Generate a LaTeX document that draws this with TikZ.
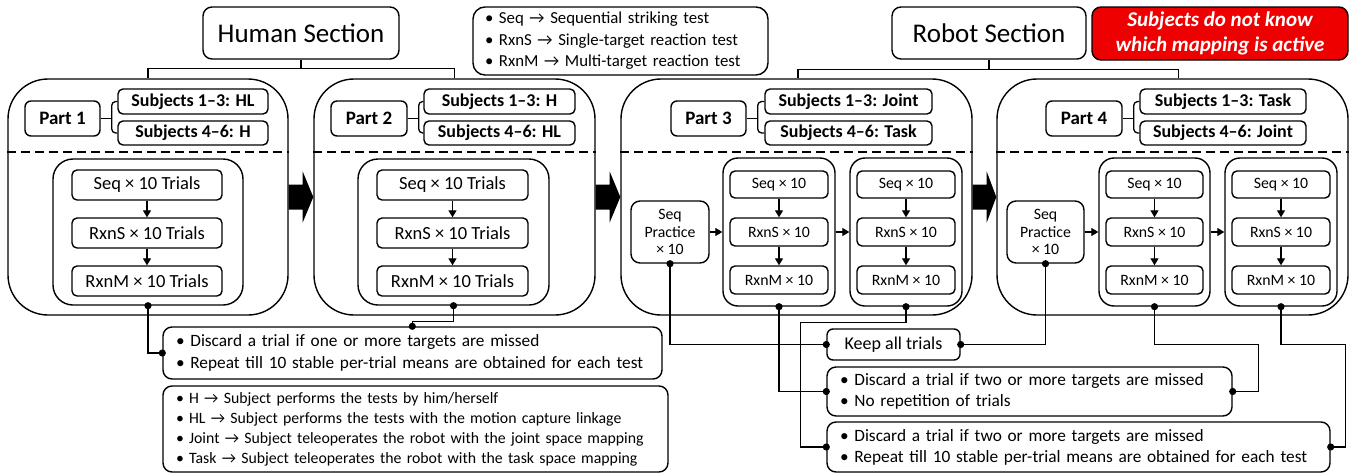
\documentclass[tikz,border=0pt]{standalone}
\usepackage{fontspec}
\setmainfont{Carlito}
\usetikzlibrary{arrows.meta,calc}

\newcommand\fsz[2]{\fontsize{#1}{#2}\selectfont}
% box by corners: name, x1, y1, x2, y2, style, text
\newcommand\bx[7]{\node[#6, minimum width={(#4)-(#2)}, minimum height={(#5)-(#3)}]
  (#1) at ({((#2)+(#4))/2},{((#3)+(#5))/2}) {#7};}
% dot at a connector end
\newcommand\dt[1]{\fill (#1) circle (3.6pt);}
% block arrow between two part boxes
\newcommand\blk[2]{\fill ($(#1.east)+(0,-12.5)$) -- ++(14,0) -- ++(0,-13) -- (#2.west)
  -- ($(#1.east)+(14,25.5)$) -- ++(0,-13) -- ($(#1.east)+(0,12.5)$) -- cycle;}
% part header: label box and first subject box
\newcommand\parthead[7]{% prefix, label x1, label x2, subj x1, subj x2, label, subj1
  \bx{#1l}{#2}{101}{#3}{136}{plabel}{#6}
  \bx{#1a}{#4}{89}{#5}{114}{subj}{#7}}
% second subject box and the brace joining them
\newcommand\partsubj[4]{% prefix, subj x1, subj x2, text
  \bx{#1b}{#2}{121}{#3}{145}{subj}{#4}
  \draw[link, rounded corners=4pt] (#1a.west) -| ($(#1l.east)+(11,0)$) |- (#1b.west);
  \draw[link] (#1l.east) -- ++(11,0);}
% human test column
\newcommand\hcol[3]{% name, x1, x2
  \bx{#1}{#2}{159}{#3}{305}{hinbox}{}
  \bx{#1s}{(#2)+19}{170}{(#3)-21}{200}{hstep}{Seq × 10 Trials}
  \bx{#1r}{(#2)+19}{218}{(#3)-21}{248}{hstep}{RxnS × 10 Trials}
  \bx{#1m}{(#2)+19}{266}{(#3)-21}{296}{hstep}{RxnM × 10 Trials}
  \draw[flow] (#1s) -- (#1r);
  \draw[flow] (#1r) -- (#1m);}
% robot test column
\newcommand\rcol[3]{% name, x1, x2
  \bx{#1}{#2}{158}{#3}{306}{rinbox}{}
  \bx{#1s}{(#2)+7}{171}{(#3)-7}{198}{rstep}{Seq × 10}
  \bx{#1r}{(#2)+7}{218}{(#3)-7}{246}{rstep}{RxnS × 10}
  \bx{#1m}{(#2)+7}{266}{(#3)-7}{294}{rstep}{RxnM × 10}
  \draw[flow] (#1s) -- (#1r);
  \draw[flow] (#1r) -- (#1m);}

\begin{document}
\begin{tikzpicture}[x=1pt,y=-1pt,
  box/.style={draw, line width=1.4pt, fill=white, inner sep=0pt, rounded corners=6pt, align=center},
  partbox/.style={box, rounded corners=40pt},
  hinbox/.style={box, rounded corners=20pt},
  rinbox/.style={box, rounded corners=15pt},
  hstep/.style={box, rounded corners=5pt, font=\fsz{18.5}{22}},
  rstep/.style={box, rounded corners=5pt, font=\fsz{15.8}{17.5}},
  plabel/.style={box, rounded corners=6pt, font=\fsz{19}{22}\bfseries},
  subj/.style={box, rounded corners=5pt, font=\fsz{18}{22}\bfseries},
  section/.style={box, rounded corners=9pt, font=\fsz{27}{30}},
  listbox/.style={box, rounded corners=9pt, align=left},
  flow/.style={-{Triangle[length=7pt,width=8pt]}, line width=1.3pt},
  link/.style={line width=1.3pt},
  sepline/.style={dash pattern=on 9pt off 5pt, line width=1.3pt},
]
\useasboundingbox (0,0) rectangle (1354,474);

% section titles, legend and note
\bx{hsec}{203}{7}{399}{59}{section}{Human Section}
\bx{rsec}{892}{7}{1086}{59}{section}{Robot Section}
\bx{legend}{473}{7}{768}{75}{listbox, rounded corners=12pt, font=\fsz{16.8}{21.5}, text width=271pt}{%
  • Seq → Sequential striking test\\
  • RxnS → Single-target reaction test\\
  • RxnM → Multi-target reaction test}
\bx{note}{1092}{7}{1348}{60}{box, rounded corners=9pt, fill={rgb,255:red,238;green,0;blue,0},
  text=white, font=\fsz{21}{25}\bfseries\itshape}{Subjects do not know\\which mapping is active}

% the four parts
\bx{part1}{8}{79}{288}{315}{partbox}{}
\bx{part2}{314}{79}{595}{315}{partbox}{}
\bx{part3}{621}{79}{972}{315}{partbox}{}
\bx{part4}{997}{79}{1348}{315}{partbox}{}
\foreach \p in {part1,part2,part3,part4}{
  \draw[sepline] ([yshift=45pt]\p.west) -- ([yshift=45pt]\p.east);
}

% section brackets
\draw[link] (hsec.south) -- ++(0,9);
\draw[link] (part1.north) |- ($(hsec.south)+(0,9)$) -| (part2.north);
\draw[link] (rsec.south) -- ++(0,10);
\draw[link] ([xshift=1.5pt]part3.north) |- ($(rsec.south)+(0,10)$) -| ([xshift=6pt]part4.north);

% block arrows
\blk{part1}{part2}
\blk{part2}{part3}
\blk{part3}{part4}

% part headers
\parthead{q1}{25}{100}{118}{268}{Part 1}{Subjects 1–3: HL}
\partsubj{q1}{118}{268}{Subjects 4–6: H}
\parthead{q2}{331}{407}{424}{575}{Part 2}{Subjects 1–3: H}
\partsubj{q2}{424}{575}{Subjects 4–6: HL}
\parthead{q3}{671}{746}{765}{932}{Part 3}{Subjects 1–3: Joint}
\partsubj{q3}{765}{932}{Subjects 4–6: Task}
\parthead{q4}{1046}{1122}{1140}{1306}{Part 4}{Subjects 1–3: Task}
\partsubj{q4}{1140}{1306}{Subjects 4–6: Joint}

% test blocks
\hcol{hin1}{53}{243}
\hcol{hin2}{358}{549}
\bx{pr3}{631}{201}{709}{263}{rstep, rounded corners=9pt}{Seq\\Practice\\× 10}
\rcol{r3a}{723}{835}
\rcol{r3b}{850}{962}
\draw[flow] (pr3) -- (r3a);
\draw[flow] (r3a) -- (r3b);
\bx{pr4}{1007}{201}{1084}{263}{rstep, rounded corners=9pt}{Seq\\Practice\\× 10}
\rcol{r4a}{1099}{1210}
\rcol{r4b}{1225}{1337}
\draw[flow] (pr4) -- (r4a);
\draw[flow] (r4a) -- (r4b);

% rules and definitions
\bx{hcrit}{163}{327}{662}{379}{listbox, font=\fsz{17.3}{22}, text width=473pt}{%
  • Discard a trial if one or more targets are missed\\
  • Repeat till 10 stable per-trial means are obtained for each test}
\bx{defs}{163}{386}{668}{472}{listbox, font=\fsz{15.8}{20}, text width=479pt}{%
  • H → Subject performs the tests by him/herself\\
  • HL → Subject performs the tests with the motion capture linkage\\
  • Joint → Subject teleoperates the robot with the joint space mapping\\
  • Task → Subject teleoperates the robot with the task space mapping}
\bx{keep}{827}{329}{960}{360}{box, font=\fsz{18}{22}}{Keep all trials}
\bx{crit2}{827}{367}{1232}{416}{listbox, font=\fsz{17.3}{21}, text width=379pt}{%
  • Discard a trial if two or more targets are missed\\
  • No repetition of trials}
\bx{crit3}{827}{422}{1330}{472}{listbox, font=\fsz{17.3}{21}, text width=477pt}{%
  • Discard a trial if two or more targets are missed\\
  • Repeat till 10 stable per-trial means are obtained for each test}

% connectors from test blocks to their rules
\coordinate (h2in) at ([xshift=250pt]hcrit.north west);
\draw[link] (hin1.south) |- (hcrit.west);
\draw[link] (hin2.south) -- ++(0,16) -| (h2in);
\draw[link] (pr3.south) |- (keep.west);
\draw[link] (pr4.south) |- (keep.east);
\draw[link] (r3a.south) |- (crit2.west);
\draw[link] (r4a.south) -- ++(0,38) -| ([xshift=26pt]crit2.east) -- (crit2.east);
\draw[link] (r3b.south) -- ++(0,16) -| ([xshift=-26pt]crit3.west) -- (crit3.west);
\draw[link] (r4b.south) -- ++(0,38) -| ([xshift=15pt]crit3.east) -- (crit3.east);
\foreach \p in {hin1.south, hcrit.west, hin2.south, h2in, pr3.south, keep.west,
  pr4.south, keep.east, r3a.south, crit2.west, r4a.south, crit2.east,
  r3b.south, crit3.west, r4b.south, crit3.east}{
  \dt{\p}
}
\end{tikzpicture}
\end{document}
